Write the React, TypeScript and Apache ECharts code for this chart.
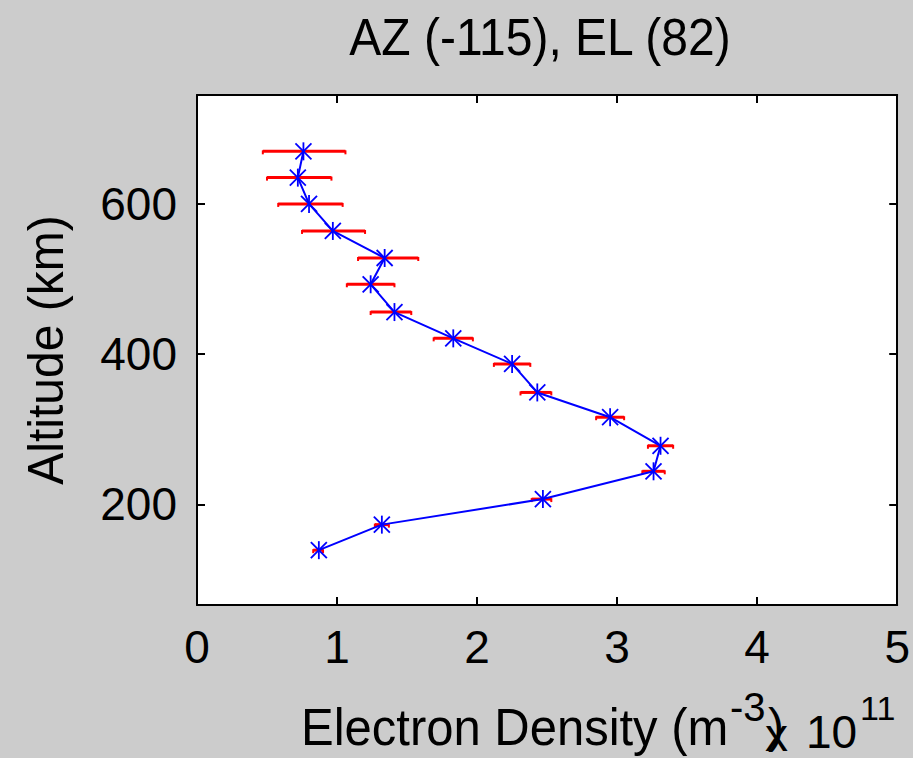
import React, { useEffect, useRef } from "react";
import * as echarts from "echarts";

// Altitude (km) of each measurement
const altitude = [670, 635, 600, 564, 528, 493, 456, 421, 387, 349, 316, 278, 244, 207, 173, 139];
// Electron density (x 10^11 m^-3)
const density = [0.76, 0.72, 0.8, 0.97, 1.34, 1.24, 1.41, 1.83, 2.25, 2.43, 2.95, 3.31, 3.26, 2.47, 1.32, 0.87];
// Horizontal error bar ends
const errLow = [0.47, 0.5, 0.58, 0.75, 1.15, 1.07, 1.24, 1.69, 2.12, 2.31, 2.85, 3.22, 3.18, 2.39, 1.27, 0.83];
const errHigh = [1.06, 0.96, 1.04, 1.2, 1.58, 1.41, 1.53, 1.97, 2.38, 2.53, 3.05, 3.4, 3.34, 2.53, 1.37, 0.9];

const yTicks = [200, 400, 600];
const xMin = 0;
const xMax = 5;
const yMin = 66;
const yMax = 745;

const titleText = "AZ (-115), EL (82)";
const yLabelText = "Altitude (km)";
const xLabelText = "Electron Density (m";

const FONT = "'Liberation Sans', Arial, Helvetica, sans-serif";

export default function App() {
  const ref = useRef<HTMLDivElement>(null);

  useEffect(() => {
    if (!ref.current) return;
    const chart = echarts.init(ref.current, undefined, { renderer: "svg" });

    const axisLine = { show: true, onZero: false, lineStyle: { color: "#000", width: 2 } };
    const tickStyle = { color: "#000", width: 2 };

    const txt = (text: string, x: number, y: number, fontSize: number, extra: any = {}) => ({
      type: "text",
      x,
      y,
      ...extra,
      style: {
        text,
        fontSize,
        fontFamily: FONT,
        fill: "#000",
        textAlign: extra.align || "left",
        textVerticalAlign: "middle",
      },
    });

    const option: any = {
      animation: false,
      backgroundColor: "#cccccc",
      grid: {
        left: 197,
        top: 95,
        width: 701,
        height: 510,
        show: true,
        backgroundColor: "#ffffff",
        borderWidth: 0,
      },
      xAxis: [
        {
          type: "value",
          min: xMin,
          max: xMax,
          interval: 1,
          position: "bottom",
          axisLine,
          axisTick: { show: true, inside: true, length: 8, lineStyle: tickStyle },
          axisLabel: {
            fontSize: 46,
            color: "#000",
            margin: 42,
            verticalAlign: "middle",
            fontFamily: FONT,
          },
          splitLine: { show: false },
        },
        {
          type: "value",
          min: xMin,
          max: xMax,
          interval: 1,
          position: "top",
          axisLine,
          axisTick: { show: true, inside: true, length: 8, lineStyle: tickStyle },
          axisLabel: { show: false },
          splitLine: { show: false },
        },
      ],
      yAxis: [
        {
          type: "value",
          min: yMin,
          max: yMax,
          position: "left",
          axisLine,
          axisTick: { show: true, inside: true, length: 8, lineStyle: tickStyle, customValues: yTicks },
          axisLabel: {
            fontSize: 46,
            color: "#000",
            margin: 20,
            fontFamily: FONT,
            customValues: yTicks,
          },
          splitLine: { show: false },
        },
        {
          type: "value",
          min: yMin,
          max: yMax,
          position: "right",
          axisLine,
          axisTick: { show: true, inside: true, length: 8, lineStyle: tickStyle, customValues: yTicks },
          axisLabel: { show: false },
          splitLine: { show: false },
        },
      ],
      graphic: [
        txt(titleText, 540, 37, 48, { align: "center", scaleY: 1.08 }),
        txt(yLabelText, 45, 350, 48, { align: "center", rotation: Math.PI / 2, scaleY: 1.05 }),
        txt(xLabelText, 301, 728, 49, { scaleY: 1.04 }),
        txt("-3", 730, 707, 40),
        txt(")", 768, 725, 48),
        txt("x", 765, 735, 46),
        txt("10", 806, 732, 46),
        txt("11", 860, 708, 34),
      ],
      series: [
        {
          type: "custom",
          name: "error",
          xAxisIndex: 0,
          yAxisIndex: 0,
          z: 2,
          encode: { x: [0, 1], y: 2 },
          data: errLow.map((l, i) => [l, errHigh[i], altitude[i]]),
          renderItem: (params: any, api: any) => {
            const lo = api.coord([api.value(0), api.value(2)]);
            const hi = api.coord([api.value(1), api.value(2)]);
            const st = { stroke: "#ff0000", lineWidth: 3 };
            const cap = { stroke: "#ff0000", lineWidth: 2 };
            return {
              type: "group",
              children: [
                { type: "line", shape: { x1: lo[0], y1: lo[1], x2: hi[0], y2: hi[1] }, style: st },
                { type: "line", shape: { x1: lo[0], y1: lo[1] - 1, x2: lo[0], y2: lo[1] + 3 }, style: cap },
                { type: "line", shape: { x1: hi[0], y1: hi[1] - 1, x2: hi[0], y2: hi[1] + 3 }, style: cap },
              ],
            };
          },
        },
        {
          type: "line",
          name: "density",
          xAxisIndex: 0,
          yAxisIndex: 0,
          z: 3,
          showSymbol: false,
          symbol: "none",
          data: density.map((d, i) => [d, altitude[i]]),
          lineStyle: { color: "#0000ff", width: 2 },
        },
        {
          type: "custom",
          name: "markers",
          xAxisIndex: 0,
          yAxisIndex: 0,
          z: 4,
          encode: { x: 0, y: 1 },
          data: density.map((d, i) => [d, altitude[i]]),
          renderItem: (params: any, api: any) => {
            const c = api.coord([api.value(0), api.value(1)]);
            const r = 8;
            const st = { stroke: "#0000ff", lineWidth: 1.8 };
            return {
              type: "group",
              children: [
                { type: "line", shape: { x1: c[0] - r, y1: c[1] - r, x2: c[0] + r, y2: c[1] + r }, style: st },
                { type: "line", shape: { x1: c[0] + r, y1: c[1] - r, x2: c[0] - r, y2: c[1] + r }, style: st },
                { type: "line", shape: { x1: c[0], y1: c[1] - r - 1, x2: c[0], y2: c[1] + r + 1 }, style: st },
              ],
            };
          },
        },
      ],
    };

    chart.setOption(option);
    return () => {
      chart.dispose();
    };
  }, []);

  return (
    <div
      ref={ref}
      style={{ position: "absolute", left: 0, top: 0, width: 913, height: 758 }}
    />
  );
}
